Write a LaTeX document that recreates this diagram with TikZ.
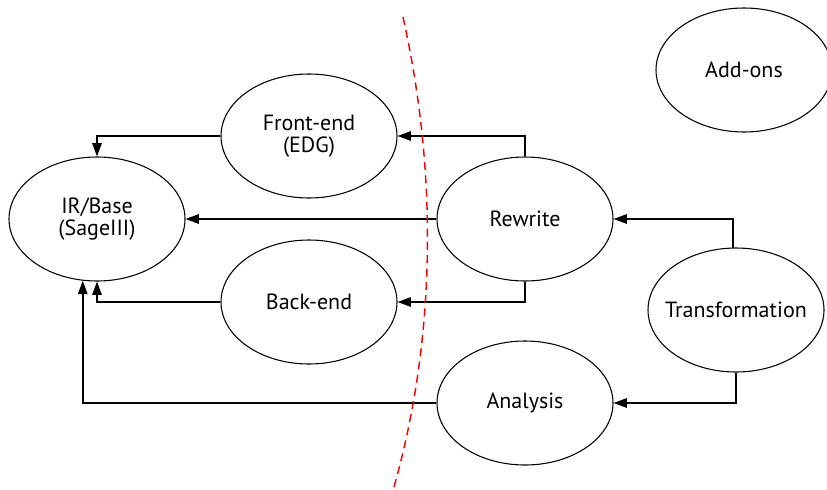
\documentclass[tikz,border=0pt]{standalone}
\usepackage{fontspec}
\setmainfont{PT Sans}
\usetikzlibrary{positioning, arrows.meta, shapes.geometric}

\begin{document}
\begin{tikzpicture}[x=0.75pt,y=-0.75pt,
  blob/.style={ellipse, draw=black, line width=0.8pt, minimum width=132pt, minimum height=93pt, inner xsep=-8pt, align=center, font=\fontsize{16.5}{16.5}\selectfont},
  link/.style={-{Triangle[length=10pt,width=7pt]}, line width=1.4pt}]
\useasboundingbox (0,0) rectangle (827,489);
\node [blob] (ir) at (97,219) {IR/Base\\(SageIII)};
\node [blob] (front) at (309,136) {Front-end\\(EDG)};
\node [blob] (back) at (309,302) {Back-end};
\node [blob] (rewrite) at (525,219) {Rewrite};
\node [blob] (analysis) at (525,403) {Analysis};
\node [blob] (trans) at (736,310) {Transformation};
\node [blob] (addons) at (744,70) {Add-ons};
\draw [link] (front.west) -| (ir.north);
\draw [link] (back.west) -| (ir.south);
\draw [link] (rewrite.north) |- (front.east);
\draw [link] (rewrite.west) -- (ir.east);
\draw [link] (rewrite.south) |- (back.east);
\draw [link] (analysis.west) -| (ir.257);
\draw [link] (trans.93) |- (rewrite.east);
\draw [link] (trans.south) |- (analysis.east);
\draw [draw=red, dashed, dash pattern=on 6pt off 4pt, line width=1.1pt] (403,17) .. controls (437,170) and (437,334) .. (394,487);
\end{tikzpicture}
\end{document}
